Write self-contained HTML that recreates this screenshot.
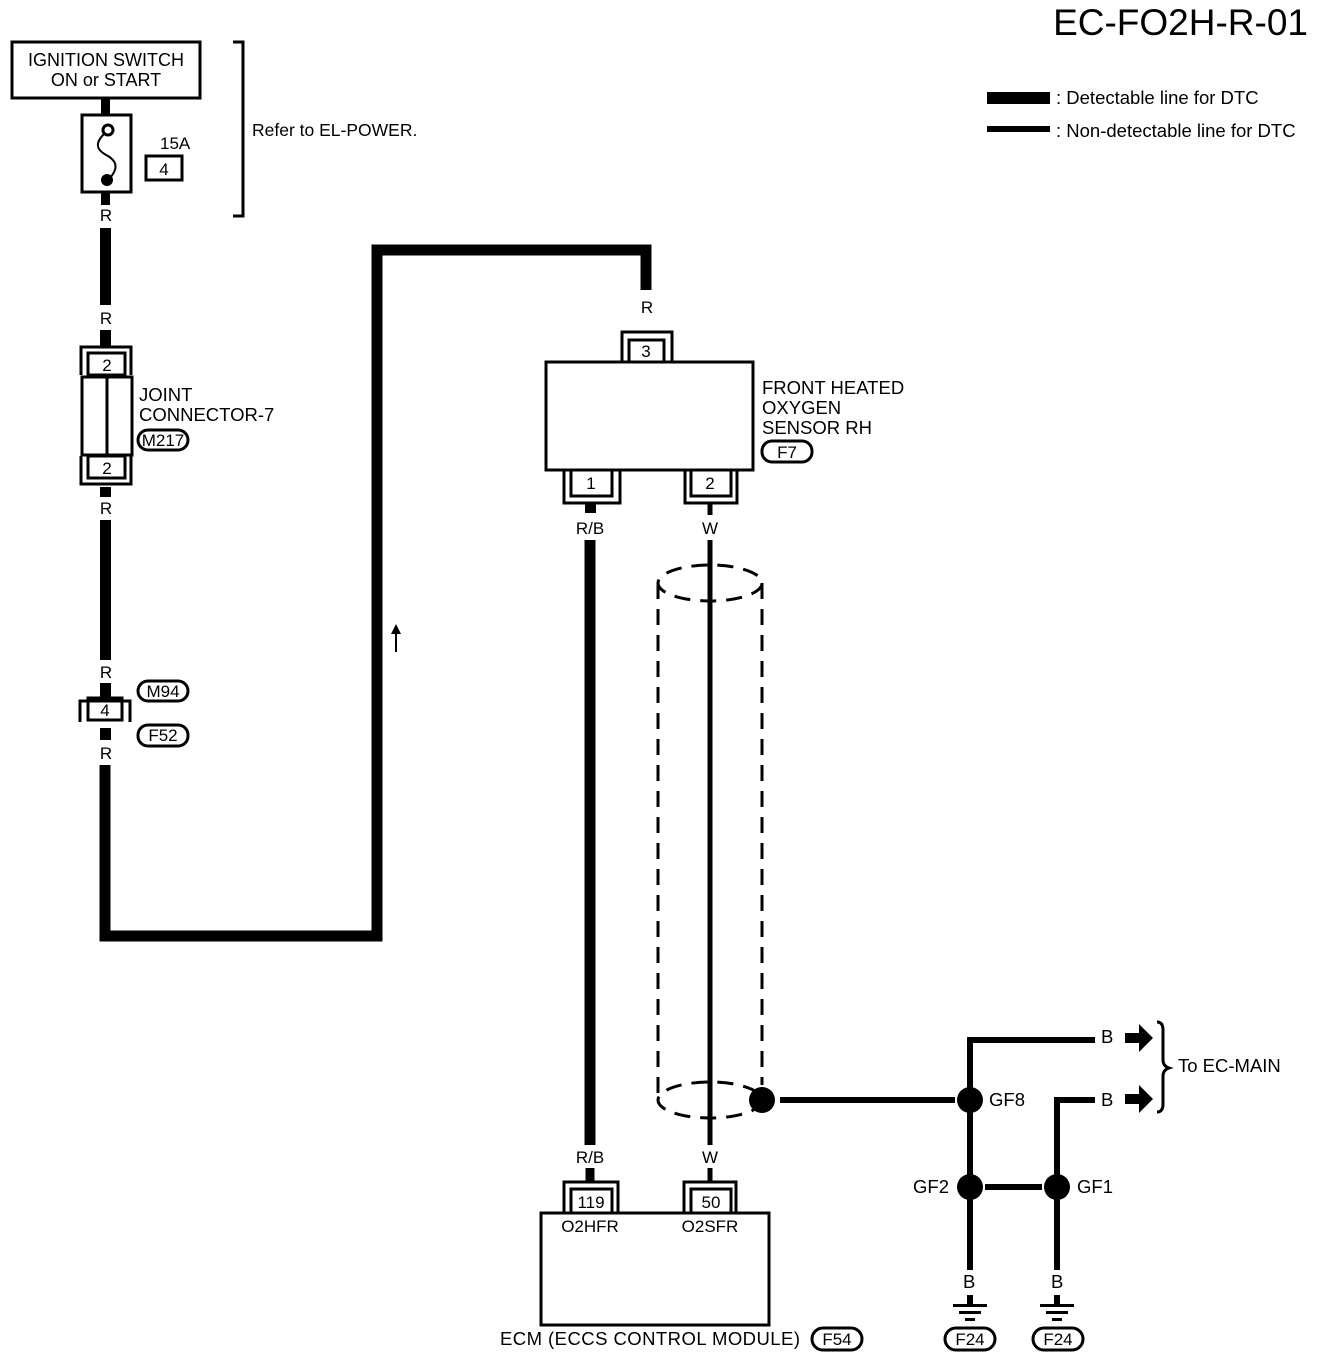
<!DOCTYPE html>
<html><head><meta charset="utf-8"><style>body{margin:0;background:#fff}svg{display:block}text{font-family:"Liberation Sans",sans-serif;fill:#000}</style></head><body>
<svg width="1328" height="1360" viewBox="0 0 1328 1360" xmlns="http://www.w3.org/2000/svg">
<text x="1308" y="35" font-size="37" text-anchor="end">EC-FO2H-R-01</text>
<rect x="987" y="92" width="63" height="12"/><text x="1056" y="104" font-size="18.5">: Detectable line for DTC</text>
<rect x="987" y="126" width="63" height="6"/><text x="1056" y="137" font-size="18.5">: Non-detectable line for DTC</text>
<g fill="none" stroke="#000">
<rect x="12" y="42" width="188" height="56" stroke-width="3"/>
<rect x="82" y="115" width="49" height="77" stroke-width="3"/>
<rect x="146" y="156" width="36" height="24" stroke-width="3"/>
<path d="M233 42h10v174h-10" stroke-width="3"/>
<circle cx="108" cy="130" r="5" stroke-width="3"/>
<path d="M104 134c-12 12 -4 18 4 22c10 6 10 14 0 24" stroke-width="2"/>
</g>
<circle cx="107" cy="180" r="6"/>
<text x="106" y="66" font-size="18" text-anchor="middle">IGNITION SWITCH</text>
<text x="106" y="86" font-size="18" text-anchor="middle">ON or START</text>
<text x="160" y="149" font-size="17">15A</text><text x="164" y="175" font-size="17" text-anchor="middle">4</text>
<text x="252" y="136" font-size="17.5">Refer to EL-POWER.</text>
<g fill="#000">
<rect x="101" y="98" width="9" height="17"/><rect x="101" y="192" width="9" height="13"/>
<rect x="100" y="228" width="11" height="77"/><rect x="100" y="330" width="11" height="17"/>
<rect x="100" y="487" width="11" height="10"/><rect x="100" y="520" width="11" height="140"/>
<rect x="100" y="683" width="11" height="15"/><rect x="100" y="728" width="11" height="12"/>
</g>
<path d="M105 765V936H377V250H646V290" fill="none" stroke="#000" stroke-width="11"/>
<g font-size="17" text-anchor="middle">
<text x="106" y="221">R</text><text x="106" y="324">R</text><text x="106" y="514">R</text><text x="106" y="678">R</text><text x="106" y="759">R</text>
<text x="647" y="313">R</text><text x="590" y="534">R/B</text><text x="710" y="534">W</text>
<text x="590" y="1163">R/B</text><text x="710" y="1163">W</text>
</g>
<g fill="none" stroke="#000" stroke-width="3">
<path d="M81 375V347H131V375"/><rect x="88" y="353" width="37" height="22"/>
<rect x="82" y="377" width="50" height="78"/><path d="M107 377V455"/>
<rect x="88" y="456" width="37" height="22"/><path d="M81 456V484H131V456"/>
<path d="M80 722V701H130V722"/><rect x="88" y="698" width="34" height="22"/>
<path d="M622 362V332H672V362"/><rect x="629" y="340" width="35" height="22"/>
<rect x="546" y="362" width="207" height="108"/>
<path d="M564 470V503H620V470"/><rect x="571" y="470" width="41" height="26"/>
<path d="M685 470V503H737V470"/><rect x="691" y="470" width="40" height="26"/>
<rect x="541" y="1213" width="228" height="112"/>
<path d="M564 1213V1182H618V1213"/><rect x="571" y="1189" width="41" height="24"/>
<path d="M684 1213V1182H736V1213"/><rect x="691" y="1189" width="40" height="24"/>
<rect x="138" y="430" width="50" height="20" rx="10"/><rect x="138" y="681" width="50" height="20" rx="10"/>
<rect x="138" y="725" width="50" height="21" rx="10"/><rect x="762" y="441" width="50" height="21" rx="10"/>
<rect x="812" y="1328" width="50" height="22" rx="11"/><rect x="945" y="1328" width="50" height="22" rx="11"/>
<rect x="1033" y="1328" width="50" height="22" rx="11"/>
<path d="M1157 1022q6 0 6 8v30q0 6 6 8q-6 2 -6 8v28q0 8 -6 8"/>
</g>
<g font-size="17" text-anchor="middle">
<text x="107" y="371">2</text><text x="107" y="474">2</text><text x="105" y="716">4</text>
<text x="646" y="357">3</text><text x="591" y="489">1</text><text x="710" y="489">2</text>
<text x="591" y="1208">119</text><text x="711" y="1208">50</text>
<text x="590" y="1232">O2HFR</text><text x="710" y="1232">O2SFR</text>
<text x="163" y="446">M217</text><text x="163" y="697">M94</text><text x="163" y="741">F52</text>
<text x="787" y="458">F7</text><text x="837" y="1345">F54</text><text x="970" y="1345">F24</text><text x="1058" y="1345">F24</text>
</g>
<g font-size="18.5">
<text x="139" y="401">JOINT</text><text x="139" y="421">CONNECTOR-7</text>
<text x="762" y="394">FRONT HEATED</text><text x="762" y="414">OXYGEN</text><text x="762" y="434">SENSOR RH</text>
<text x="500" y="1345" textLength="300">ECM (ECCS CONTROL MODULE)</text>
<text x="1178" y="1072">To EC-MAIN</text>
<text x="989" y="1106">GF8</text><text x="1077" y="1193">GF1</text><text x="913" y="1193">GF2</text>
<text x="1101" y="1043">B</text><text x="1101" y="1106">B</text><text x="963" y="1288">B</text><text x="1051" y="1288">B</text>
</g>
<rect x="585" y="503" width="11" height="10" fill="#000"/>
<path d="M590 540V1145" stroke="#000" stroke-width="11"/>
<path d="M590 1168V1182" stroke="#000" stroke-width="9"/>
<path d="M710 503V515M710 540V1145M710 1168V1182" stroke="#000" stroke-width="5"/>
<path d="M396 652V628" stroke="#000" stroke-width="2"/><path d="M391 634l5-10 5 10z"/>
<g fill="none" stroke="#000" stroke-width="3" stroke-dasharray="16 10">
<ellipse cx="710" cy="583" rx="52" ry="18"/><ellipse cx="710" cy="1100" rx="52" ry="18"/>
<path d="M658 583V1100M762 583V1085"/>
</g>
<g stroke="#000" stroke-width="6" fill="none">
<path d="M780 1100H955"/><path d="M970 1100V1040H1095"/><path d="M1057 1187V1100H1095"/>
<path d="M985 1187H1042"/><path d="M970 1100V1187V1270"/><path d="M1057 1187V1270"/>
</g>
<g fill="#000">
<circle cx="762" cy="1100" r="13"/><circle cx="970" cy="1100" r="13"/><circle cx="970" cy="1187" r="13"/><circle cx="1057" cy="1187" r="13"/>
<path d="M1125 1033h14v-9l14 14-14 14v-9h-14z"/><path d="M1125 1094h14v-9l14 14-14 14v-9h-14z"/>
<rect x="967" y="1295" width="6" height="10"/><rect x="953" y="1304" width="34" height="3"/><rect x="959" y="1311" width="22" height="3"/><rect x="965" y="1318" width="10" height="3"/>
<rect x="1054" y="1295" width="6" height="10"/><rect x="1040" y="1304" width="34" height="3"/><rect x="1046" y="1311" width="22" height="3"/><rect x="1052" y="1318" width="10" height="3"/>
</g>
</svg>
</body></html>
